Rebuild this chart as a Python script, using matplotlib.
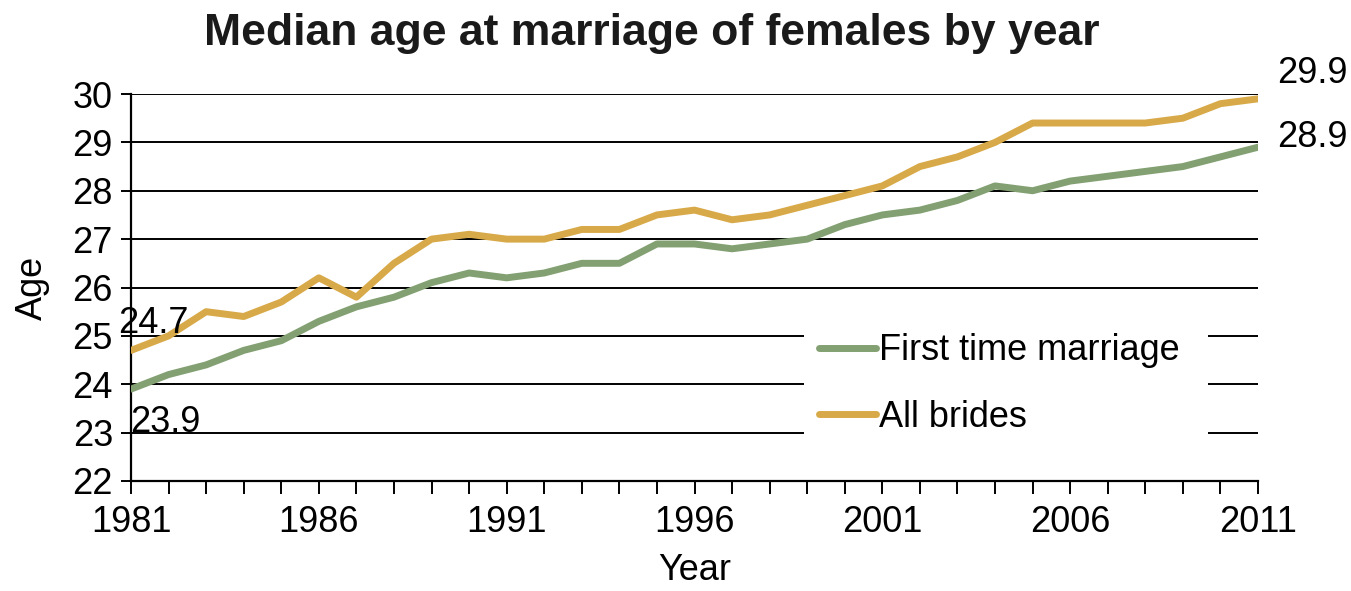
import matplotlib.pyplot as plt
from matplotlib.patches import Rectangle

plt.rcParams['font.family'] = ['Liberation Sans', 'DejaVu Sans']

# Data
years = list(range(1981, 2012))
first_time = [23.9, 24.2, 24.4, 24.7, 24.9, 25.3, 25.6, 25.8, 26.1, 26.3,
              26.2, 26.3, 26.5, 26.5, 26.9, 26.9, 26.8, 26.9, 27.0, 27.3,
              27.5, 27.6, 27.8, 28.1, 28.0, 28.2, 28.3, 28.4, 28.5, 28.7,
              28.9]
all_brides = [24.7, 25.0, 25.5, 25.4, 25.7, 26.2, 25.8, 26.5, 27.0, 27.1,
              27.0, 27.0, 27.2, 27.2, 27.5, 27.6, 27.4, 27.5, 27.7, 27.9,
              28.1, 28.5, 28.7, 29.0, 29.4, 29.4, 29.4, 29.4, 29.5, 29.8,
              29.9]
labelled_years = [1981, 1986, 1991, 1996, 2001, 2006, 2011]

green = '#82a072'
gold = '#d8a948'
fs = 26

fig = plt.figure(figsize=(13.51, 5.91), dpi=100)
ax = fig.add_axes([131/1351, 1 - 481/591, 1127/1351, 387/591])

ax.plot(years, first_time, color=green, lw=5, solid_capstyle='round',
        label='First time marriage', zorder=3)
ax.plot(years, all_brides, color=gold, lw=5, solid_capstyle='round',
        label='All brides', zorder=3)

# Axes
ax.set_xlim(1981, 2011)
ax.set_ylim(22, 30)
ax.set_yticks(range(22, 31))
ax.set_xticks(years)
ax.set_xticklabels([str(y) if y in labelled_years else '' for y in years])
ax.tick_params(axis='both', labelsize=fs, color='black', width=1.4)
ax.tick_params(axis='y', length=7, pad=6)
ax.tick_params(axis='x', length=9, pad=8)
for side in ['top', 'right']:
    ax.spines[side].set_visible(False)
for side in ['left', 'bottom']:
    ax.spines[side].set_linewidth(1.6)
ax.grid(True, axis='y', color='black', lw=1.4)
ax.set_axisbelow(True)

ax.set_xlabel('Year', fontsize=fs, labelpad=10)
ax.set_ylabel('Age', fontsize=fs, labelpad=16)

fig.text(652/1351, 1 - 45/591, 'Median age at marriage of females by year',
         fontsize=32, fontweight='bold', ha='center', va='baseline',
         color='#1a1a1a')

# End value labels
ann = dict(fontsize=fs, ha='center', va='center', textcoords='offset points')
ax.annotate('24.7', xy=(1981, 24.7), xytext=(16, 19), **ann)
ax.annotate('23.9', xy=(1981, 23.9), xytext=(25, -24), **ann)
ax.annotate('29.9', xy=(2011, 29.9), xytext=(39, 18), annotation_clip=False, **ann)
ax.annotate('28.9', xy=(2011, 28.9), xytext=(39, 7), annotation_clip=False, **ann)

# White panel behind the legend, hiding the gridlines there
ax.add_patch(Rectangle((0.597, 0.067), 0.359, 0.388, transform=ax.transAxes,
                       facecolor='white', edgecolor='none', zorder=2))

leg = ax.legend(loc='upper left', bbox_to_anchor=(0.6105, 0.382),
                fontsize=fs, frameon=False, handlelength=1.58,
                handletextpad=0.08, labelspacing=0.87, borderpad=0,
                borderaxespad=0)
for line in leg.get_lines():
    line.set_linewidth(5)
    line.set_solid_capstyle('round')
leg.set_zorder(5)

fig.savefig('out.png', dpi=100)
plt.close(fig)
